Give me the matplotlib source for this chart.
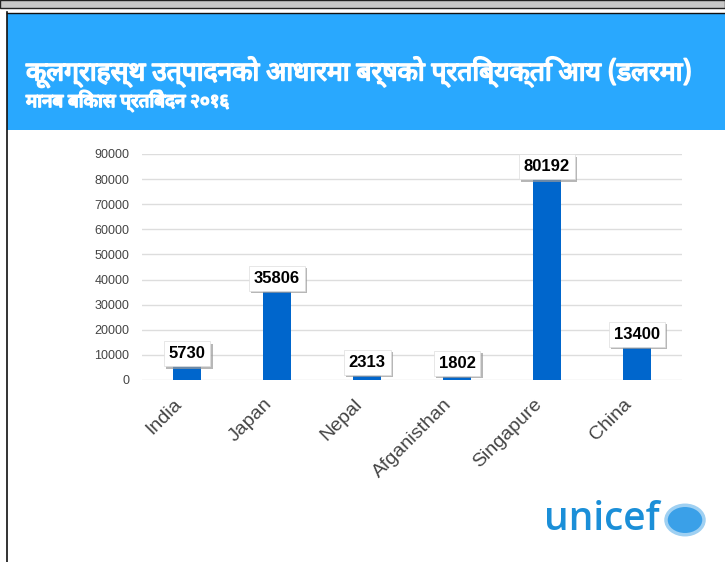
import matplotlib.pyplot as plt
from matplotlib.patches import Rectangle, Circle
from matplotlib.transforms import ScaledTranslation
import matplotlib.patheffects as pe

countries = ["India", "Japan", "Nepal", "Afganisthan", "Singapure", "China"]
income = [5730, 35806, 2313, 1802, 80192, 13400]
yticks = list(range(0, 90001, 10000))

title_1 = "कूलग्राहस्थ उत्पादनको आधारमा बर्षको प्रतिब्यक्ति आय (डलरमा)"
title_2 = "मानब बिकास प्रतिबेदन २०१६"

plt.rcParams['font.family'] = ['Liberation Sans', 'DejaVu Sans']

W, H = 725, 562
fig = plt.figure(figsize=(W / 100, H / 100), dpi=100)

# frame pieces of the slide (pixel coords converted to figure fraction)
def px(x, y, w, h):
    return (x / W, 1 - (y + h) / H, w / W, h / H)

x0, y0, w0, h0 = px(0, 0, 725, 8)
fig.patches.append(Rectangle((x0, y0), w0, h0, transform=fig.transFigure,
                             facecolor="#c8c8c8", edgecolor="#222222", lw=1))
x0, y0, w0, h0 = px(7, 13, 720, 117)
fig.patches.append(Rectangle((x0, y0), w0, h0, transform=fig.transFigure,
                             facecolor="#29a8fe", edgecolor="none"))
fig.add_artist(plt.Line2D([7 / W, 7 / W], [0, 1 - 12 / H], transform=fig.transFigure,
                          color="#111111", lw=1.2))
fig.add_artist(plt.Line2D([7 / W, 1], [1 - 12.5 / H, 1 - 12.5 / H], transform=fig.transFigure,
                          color="#111111", lw=1.0))

# fake bold for the Devanagari title with a white stroke
fam = ['Noto Sans Devanagari', 'Lohit Devanagari', 'FreeSans', 'DejaVu Sans']
thick = [pe.withStroke(linewidth=1.2, foreground="white")]
fig.text(26 / W, 1 - 72 / H, title_1, color="white", fontsize=19, fontweight="bold",
         va="center", ha="left", family=fam, path_effects=thick)
fig.text(26 / W, 1 - 101 / H, title_2, color="white", fontsize=13.5, fontweight="bold",
         va="center", ha="left", family=fam, path_effects=thick)

ax = fig.add_axes([142 / W, 1 - 380 / H, 540 / W, 226 / H])
x = range(len(countries))
bars = ax.bar(x, income, width=0.31, color="#0066cc", zorder=3)
ax.set_xlim(-0.5, len(countries) - 0.5)
ax.set_ylim(0, 90000)
ax.set_yticks(yticks)
ax.set_yticklabels([str(v) for v in yticks], fontsize=9, color="#444444")
ax.set_xticks(list(x))
ax.set_xticklabels(countries, rotation=45, ha="right", rotation_mode="anchor",
                   fontsize=14, color="#444444")
ax.tick_params(length=0, pad=9)
ax.tick_params(axis="x", pad=11)
shift = ScaledTranslation(-10 / 72, 0, fig.dpi_scale_trans)
for lab in ax.get_xticklabels():
    lab.set_transform(lab.get_transform() + shift)
for s in ax.spines.values():
    s.set_visible(False)
ax.grid(axis="y", color="#dddddd", lw=1, zorder=0)

for b, v in zip(bars, income):
    cx = b.get_x() + b.get_width() / 2
    t = ax.annotate(str(v), (cx, v), xytext=(0, 3), textcoords="offset points",
                    ha="center", va="bottom", fontsize=12, fontweight="bold", zorder=5,
                    bbox=dict(boxstyle="square,pad=0.3", fc="white", ec="#dddddd", lw=0.5))
    t.get_bbox_patch().set_path_effects([
        pe.SimplePatchShadow(offset=(1.5, -1.5), shadow_rgbFace="#999999", alpha=0.7),
        pe.Normal()])

# unicef mark
fig.text(544 / W, 1 - 520 / H, "unicef", color="#1b8fd8", fontsize=28, fontweight="semibold",
         va="center", ha="left", family=['Open Sans', 'DejaVu Sans'])
fig.patches.append(Circle((685 / W, 1 - 520 / H), 19 / W, transform=fig.transFigure,
                          facecolor="#3aa0e8", edgecolor="#9fd0f2", lw=2.5))

fig.savefig("out.png", dpi=100)
